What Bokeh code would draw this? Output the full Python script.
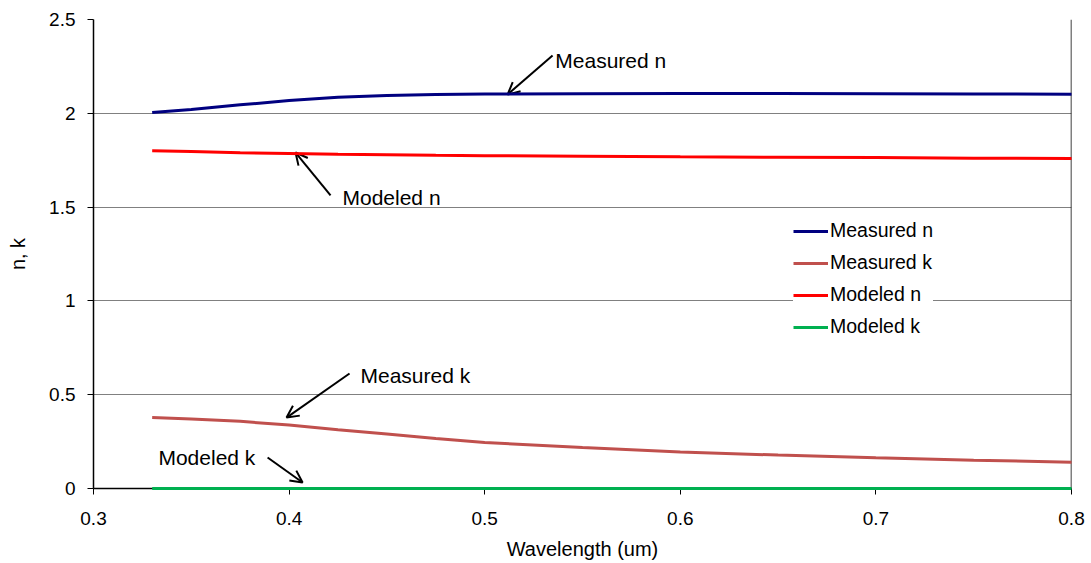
from bokeh.plotting import figure
from bokeh.models import (FixedTicker, CustomJSTickFormatter, Legend, LegendItem,
                          Arrow, OpenHead, Range1d, ColumnDataSource, Span)
from bokeh.core.properties import value
from bokeh.embed import file_html
from bokeh.resources import INLINE

wavelength = [0.33, 0.35, 0.375, 0.40, 0.425, 0.45, 0.475, 0.50, 0.55, 0.60, 0.65, 0.70, 0.75, 0.80]
measured_n = [2.004, 2.02, 2.045, 2.068, 2.085, 2.095, 2.100, 2.103, 2.104, 2.105, 2.105, 2.104, 2.103, 2.102]
measured_k = [0.378, 0.370, 0.358, 0.338, 0.313, 0.290, 0.266, 0.245, 0.218, 0.195, 0.178, 0.164, 0.151, 0.140]
modeled_n = [1.800, 1.796, 1.790, 1.786, 1.782, 1.779, 1.776, 1.774, 1.771, 1.768, 1.766, 1.764, 1.761, 1.759]
modeled_k = [0.0] * len(wavelength)

series_names = ["Measured n", "Measured k", "Modeled n", "Modeled k"]
series_colors = ["#000080", "#C0504D", "#FF0000", "#00B050"]

x_ticks = [0.3, 0.4, 0.5, 0.6, 0.7, 0.8]
y_ticks = [0, 0.5, 1, 1.5, 2, 2.5]

# annotation labels and arrows (data coordinates)
note_texts = ["Measured n", "Modeled n", "Measured k", "Modeled k"]
note_x = [0.5361, 0.4273, 0.4365, 0.3332]
note_y = [2.281, 1.551, 0.602, 0.165]
arrow_x0 = [0.5347, 0.4212, 0.4309, 0.3890]
arrow_y0 = [2.308, 1.562, 0.613, 0.165]
arrow_x1 = [0.5117, 0.4033, 0.3987, 0.4069]
arrow_y1 = [2.100, 1.791, 0.378, 0.032]

FONT = "Liberation Sans"

p = figure(width=1091, height=563, output_backend="svg", toolbar_location=None,
           x_range=Range1d(0.3, 0.8), y_range=Range1d(0, 2.5),
           min_border_left=93, min_border_right=20, min_border_top=19, min_border_bottom=75)
p.outline_line_color = None
p.background_fill_color = "white"
p.border_fill_color = "white"

p.xgrid.visible = False
p.ygrid.grid_line_color = "#808080"
p.ygrid.grid_line_width = 1

p.xaxis.ticker = FixedTicker(ticks=x_ticks)
p.yaxis.ticker = FixedTicker(ticks=y_ticks)
p.xaxis.formatter = CustomJSTickFormatter(code="return tick.toFixed(1);")
p.yaxis.formatter = CustomJSTickFormatter(code="return String(Number(tick.toFixed(1)));")
for ax in (p.xaxis, p.yaxis):
    ax.axis_line_color = "black"
    ax.axis_line_width = 1.5
    ax.major_tick_line_color = "black"
    ax.major_tick_out = 6
    ax.major_tick_in = 0
    ax.minor_tick_line_color = None
    ax.major_label_text_font = FONT
    ax.major_label_text_font_size = "19px"
    ax.major_label_text_color = "black"
    ax.axis_label_text_font = FONT
    ax.axis_label_text_font_size = "20px"
    ax.axis_label_text_font_style = "normal"
    ax.axis_label_text_color = "black"
p.xaxis.axis_label = "Wavelength (um)"
p.yaxis.axis_label = "n, k"
p.xaxis.major_label_standoff = 17
p.yaxis.major_label_standoff = 12
p.xaxis.axis_label_standoff = 10
p.yaxis.axis_label_standoff = 17

p.add_layout(Span(location=0.8, dimension="height", line_color="black", line_width=1.5))

ys = [measured_n, measured_k, modeled_n, modeled_k]
renderers = []
for name, col, yv in zip(series_names, series_colors, ys):
    src = ColumnDataSource(dict(x=wavelength, y=yv))
    r = p.line("x", "y", source=src, line_color=col, line_width=3)
    r.level = "overlay"
    renderers.append(r)

legend = Legend(items=[LegendItem(label=n, renderers=[r]) for n, r in zip(series_names, renderers)],
                location=(700, 150), label_text_font=FONT, label_text_font_size="19.5px",
                label_text_color="black",
                glyph_width=35, glyph_height=20, spacing=9, label_standoff=2,
                border_line_color=None, background_fill_color="white", background_fill_alpha=1.0,
                padding=4, margin=0)
p.add_layout(legend, "center")

src_t = ColumnDataSource(dict(x=note_x, y=note_y, t=note_texts))
p.text("x", "y", text="t", source=src_t, text_font=value(FONT), text_font_size="21px",
       text_align="left", text_baseline="middle", text_color="black")

for xa, ya, xb, yb in zip(arrow_x0, arrow_y0, arrow_x1, arrow_y1):
    p.add_layout(Arrow(x_start=xa, y_start=ya, x_end=xb, y_end=yb, line_color="black", line_width=2,
                       end=OpenHead(size=12, line_color="black", line_width=2)))

open("out.html", "w").write(file_html(p, INLINE))
